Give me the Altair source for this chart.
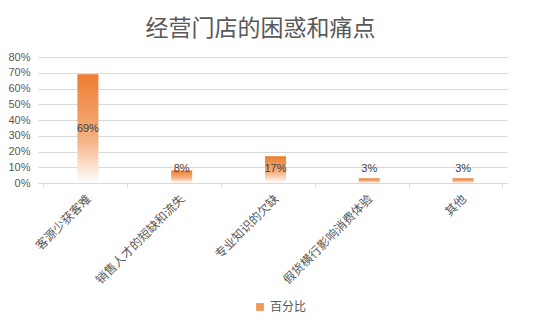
import altair as alt
import pandas as pd

categories = ["客源少获客难", "销售人才的短缺和流失", "专业知识的欠缺", "假货横行影响消费体验", "其他"]
values = [0.69, 0.08, 0.17, 0.03, 0.03]
series = "百分比"
y_ticks = [0, 0.1, 0.2, 0.3, 0.4, 0.5, 0.6, 0.7, 0.8]

df = pd.DataFrame({"cat": categories, "value": values, "series": [series] * len(categories)})

gray = "#595959"
orange = "#ED7D31"
grad = alt.Gradient(
    gradient="linear",
    stops=[alt.GradientStop(color=orange, offset=0), alt.GradientStop(color="#F4B183", offset=0.6),
           alt.GradientStop(color="#ffffff", offset=1)],
    x1=0, x2=0, y1=0, y2=1,
)

x = alt.X("cat:N", sort=categories, title=None,
          axis=alt.Axis(labelAngle=-45, labelAlign="right", labelBaseline="top",
                        labelFont="Noto Sans CJK SC", labelFontSize=12, labelColor=gray,
                        domainColor="#D9D9D9", tickColor="#D9D9D9", tickBand="extent",
                        tickSize=4, labelPadding=6, labelOverlap=False))
y = alt.Y("value:Q", title=None, scale=alt.Scale(domain=[0, 0.8], nice=False),
          axis=alt.Axis(format=".0%", values=y_ticks, tickCount=20, labelOverlap=False,
                        labelFont="Liberation Sans", labelFontSize=11,
                        labelColor=gray, domain=False, ticks=False, gridColor="#D9D9D9",
                        labelPadding=8))

bars = alt.Chart(df).mark_bar(size=21, fill=grad, xOffset=3).encode(
    x=x, y=y,
    color=alt.Color("series:N", scale=alt.Scale(range=[orange]), title=None,
                    legend=alt.Legend(orient="none", legendX=216, legendY=244, symbolType="square",
                                      symbolSize=60, labelFont="Noto Sans CJK SC", labelFontSize=12,
                                      labelColor=gray, symbolOpacity=0.8)),
)

labels = alt.Chart(df).transform_calculate(
    ly="max(datum.value/2, 0.087)",
    txt="format(datum.value, '.0%')",
).mark_text(font="Liberation Sans", fontSize=11, color="#404040", xOffset=3).encode(
    x=alt.X("cat:N", sort=categories),
    y=alt.Y("ly:Q"),
    text="txt:N",
)

chart = alt.layer(bars, labels).properties(
    width=469, height=126,
    title=alt.TitleParams("经营门店的困惑和痛点", font="Noto Sans CJK SC", fontSize=23,
                          fontWeight="normal", color=gray, offset=10, dx=-12),
    autosize=alt.AutoSizeParams(type="none"),
    padding={"left": 30, "top": 49, "right": 37, "bottom": 135},
).configure_view(stroke=None)

chart.save("out.html", embed_options={"renderer": "svg", "actions": False})
